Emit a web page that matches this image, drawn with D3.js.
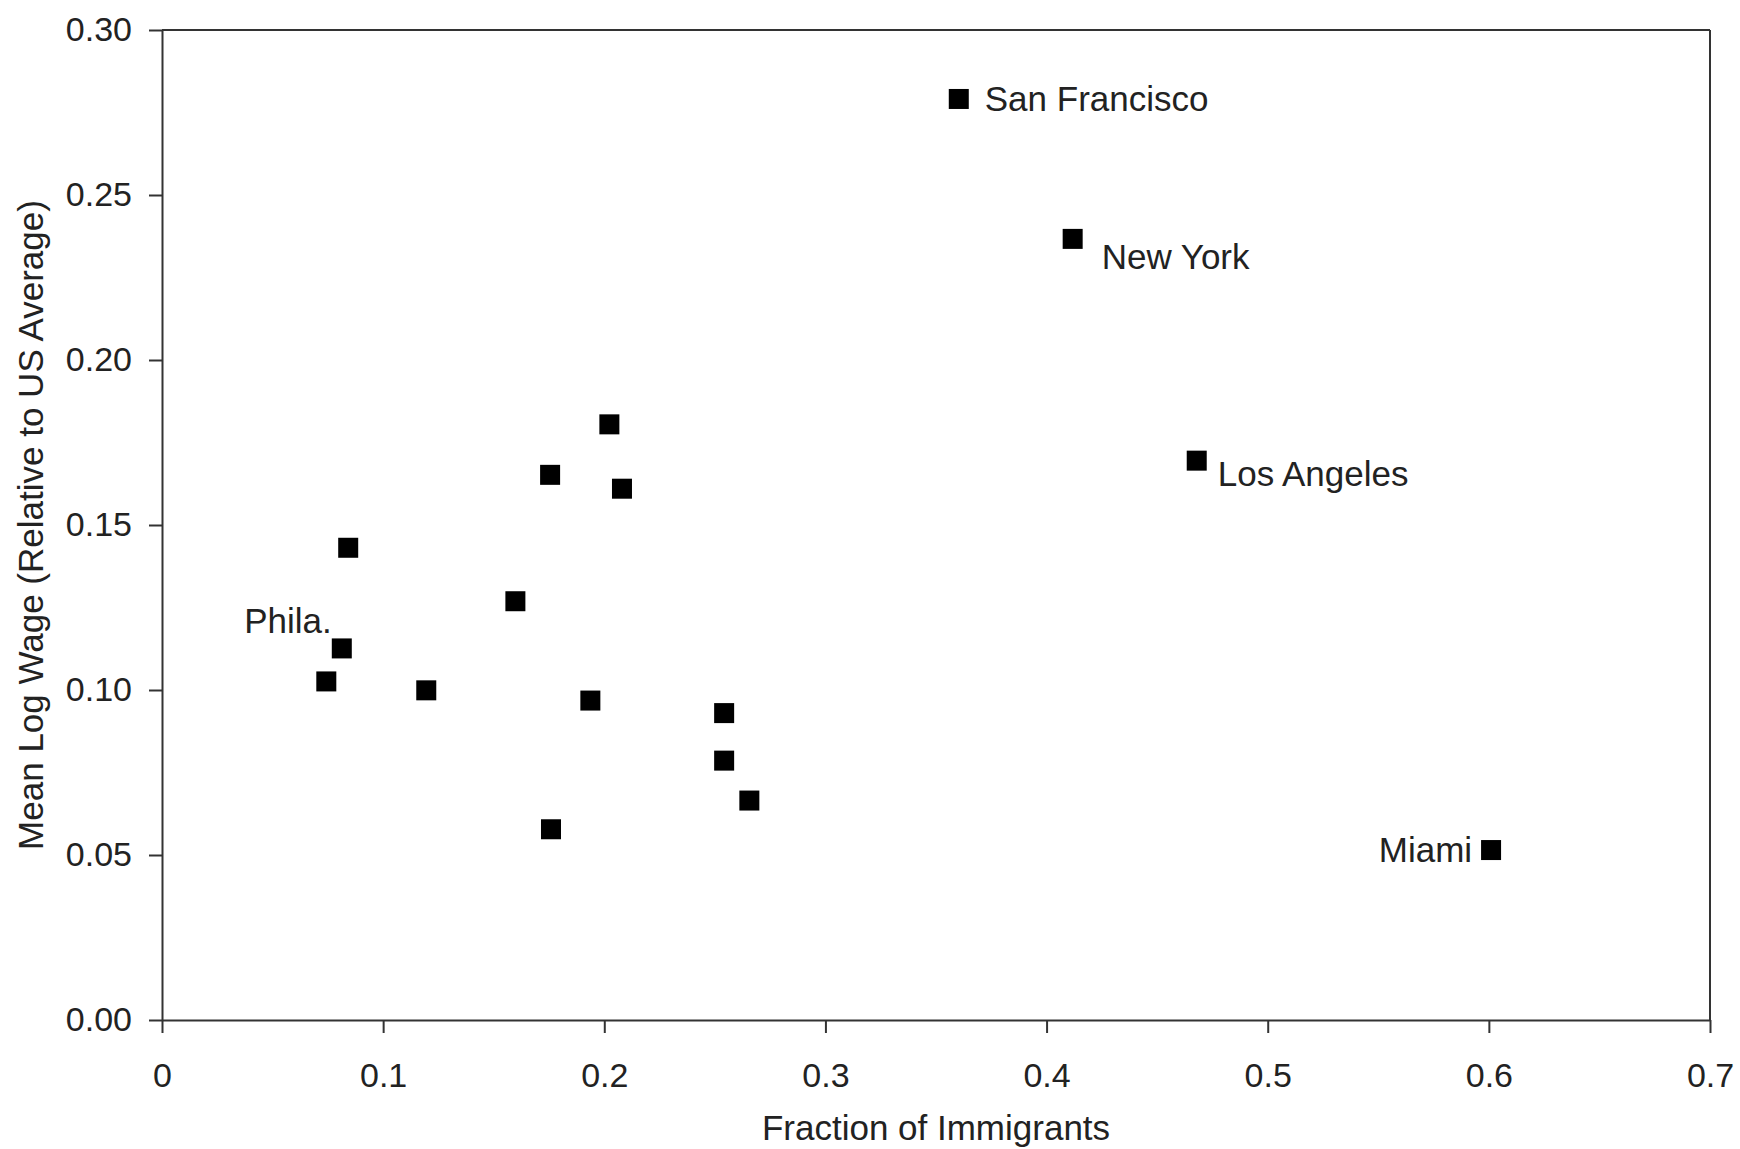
<!DOCTYPE html>
<html>
<head>
<meta charset="utf-8">
<script src="https://cdn.jsdelivr.net/npm/d3@7"></script>
<style>
  body { margin: 0; background: #fff; }
  text { font-family: "Liberation Sans", Arial, sans-serif; fill: #222; }
  .axis path, .axis line { stroke: #333; stroke-width: 2; }
</style>
</head>
<body>
<script>
// data
const cities = ["", "", "", "", "", "Phila.", "", "", "", "", "", "", "",
                "San Francisco", "New York", "Los Angeles", "Miami"];
const immigrantShare = [0.2023, 0.1755, 0.2080, 0.0842, 0.1598, 0.0813, 0.0743, 0.1195, 0.1937,
                        0.1759, 0.2542, 0.2542, 0.2656, 0.3603, 0.4118, 0.4679, 0.6010];
const meanLogWage = [0.1805, 0.1652, 0.1610, 0.1431, 0.1269, 0.1126, 0.1026, 0.0999, 0.0968,
                     0.0578, 0.0930, 0.0786, 0.0665, 0.2791, 0.2367, 0.1695, 0.0515];
const xTicks = [0, 0.1, 0.2, 0.3, 0.4, 0.5, 0.6, 0.7];
const yTicks = [0, 0.05, 0.10, 0.15, 0.20, 0.25, 0.30];

var margin = {top: 30, right: 30, bottom: 129, left: 162},
    width = 1740 - margin.left - margin.right,
    height = 1149 - margin.top - margin.bottom;

var xScale = d3.scaleLinear().domain([0, 0.7]).range([0, width]);
var yScale = d3.scaleLinear().domain([0, 0.30]).range([height, 0]);

var svg = d3.select("body").append("svg")
    .attr("width", 1740)
    .attr("height", 1149)
    .append("g")
    .attr("transform", "translate(" + margin.left + "," + margin.top + ")");

// box lines (top / right)
svg.append("line")
    .attr("x1", 0).attr("x2", width).attr("y1", 0).attr("y2", 0)
    .style("stroke", "#333").style("stroke-width", 2);
svg.append("line")
    .attr("x1", width).attr("x2", width).attr("y1", 0).attr("y2", height)
    .style("stroke", "#333").style("stroke-width", 2);

svg.append("g")
    .attr("class", "axis")
    .attr("transform", "translate(0," + height + ")")
    .call(d3.axisBottom(xScale).tickValues(xTicks)
        .tickFormat(function(d) { return d === 0 ? "0" : d3.format(".1f")(d); })
        .tickSize(13).tickPadding(30).tickSizeOuter(0));

svg.append("g")
    .attr("class", "axis")
    .call(d3.axisLeft(yScale).tickValues(yTicks)
        .tickFormat(d3.format(".2f"))
        .tickSize(13).tickPadding(17).tickSizeOuter(0));

svg.selectAll(".axis text")
    .style("font-size", "34px")
    .style("fill", "#222");

// axis titles
svg.append("text")
    .attr("x", width / 2)
    .attr("y", height + 120)
    .attr("text-anchor", "middle")
    .style("font-size", "35px")
    .text("Fraction of Immigrants");

svg.append("text")
    .attr("transform", "translate(" + (43 - margin.left) + "," + (height / 2) + ") rotate(-90)")
    .attr("text-anchor", "middle")
    .style("font-size", "35px")
    .text("Mean Log Wage (Relative to US Average)");

var points = cities.map(function(c, i) {
    return {name: c, x: immigrantShare[i], y: meanLogWage[i]};
});

var size = 20;
svg.selectAll(".dot")
    .data(points)
    .enter().append("rect")
    .attr("class", "dot")
    .attr("x", function(d) { return xScale(d.x) - size / 2; })
    .attr("y", function(d) { return yScale(d.y) - size / 2; })
    .attr("width", size)
    .attr("height", size)
    .style("fill", "#000");

// label placement relative to the marker
var labelPos = {
    "Phila.":        {dx: -10, dy: -15, anchor: "end"},
    "San Francisco": {dx: 26,  dy: 12,  anchor: "start"},
    "New York":      {dx: 29,  dy: 30,  anchor: "start"},
    "Los Angeles":   {dx: 21,  dy: 25,  anchor: "start"},
    "Miami":         {dx: -19, dy: 12,  anchor: "end"}
};

svg.selectAll(".city")
    .data(points.filter(function(d) { return d.name !== ""; }))
    .enter().append("text")
    .attr("class", "city")
    .attr("x", function(d) { return xScale(d.x) + labelPos[d.name].dx; })
    .attr("y", function(d) { return yScale(d.y) + labelPos[d.name].dy; })
    .attr("text-anchor", function(d) { return labelPos[d.name].anchor; })
    .style("font-size", "35px")
    .text(function(d) { return d.name; });
</script>
</body>
</html>
